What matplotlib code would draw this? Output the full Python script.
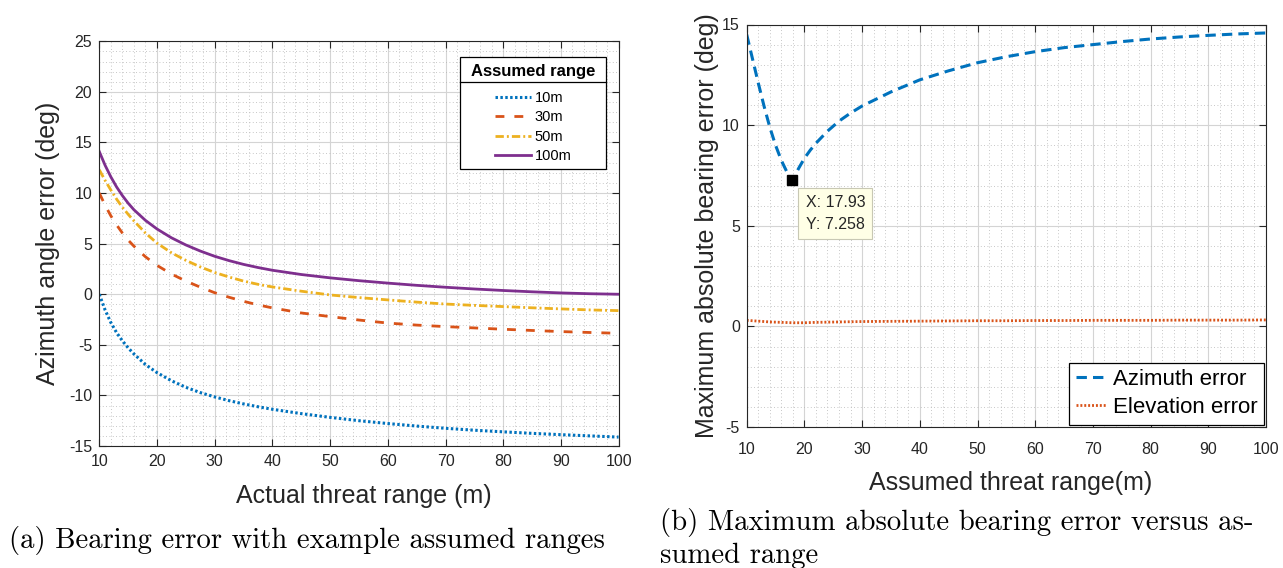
import matplotlib
matplotlib.use("Agg")
import matplotlib.pyplot as plt
from matplotlib.lines import Line2D
from matplotlib.ticker import MultipleLocator

plt.rcParams['font.family'] = ['Liberation Sans', 'DejaVu Sans']
plt.rcParams['axes.unicode_minus'] = False

# ---- (a) azimuth error vs actual threat range, for several assumed ranges ----
actual_range = [10, 11, 12, 13, 14, 15, 16, 18, 20, 22.5, 25, 27.5, 30, 32.5, 35,
                37.5, 40, 45, 50, 55, 60, 65, 70, 75, 80, 85, 90, 95, 100]
err_10m = [0.0, -1.55, -2.8, -3.8, -4.6, -5.3, -5.9, -6.95, -7.75, -8.55, -9.2, -9.72,
           -10.15, -10.52, -10.84, -11.12, -11.37, -11.8, -12.17, -12.5, -12.78, -13.03,
           -13.25, -13.44, -13.6, -13.75, -13.88, -14.0, -14.12]
err_30m = [10.0, 8.8, 7.75, 6.85, 6.05, 5.35, 4.75, 3.7, 2.85, 2.0, 1.3, 0.7, 0.15,
           -0.3, -0.7, -1.05, -1.35, -1.85, -2.21, -2.55, -2.85, -3.05, -3.2, -3.33,
           -3.46, -3.58, -3.69, -3.78, -3.86]
err_50m = [12.3, 11.25, 10.3, 9.4, 8.6, 7.9, 7.25, 6.05, 5.05, 4.1, 3.35, 2.7, 2.15,
           1.7, 1.3, 0.98, 0.72, 0.3, -0.07, -0.33, -0.56, -0.78, -0.97, -1.1, -1.22,
           -1.34, -1.45, -1.55, -1.62]
err_100m = [14.1, 12.75, 11.6, 10.6, 9.75, 9.0, 8.35, 7.3, 6.45, 5.58, 4.87, 4.27, 3.75,
            3.32, 2.95, 2.64, 2.37, 1.95, 1.62, 1.34, 1.1, 0.88, 0.69, 0.52, 0.37, 0.24,
            0.13, 0.05, 0.0]
series_labels = ['10m', '30m', '50m', '100m']

# ---- (b) maximum absolute bearing error vs assumed range ----
assumed_range = [10, 11, 12, 13, 14, 15, 16, 17, 17.93, 19, 20, 21, 22, 24, 26, 28, 30,
                 35, 40, 45, 50, 55, 60, 65, 70, 75, 80, 85, 90, 95, 100]
azimuth_err = [14.5, 13.3, 12.1, 10.95, 9.9, 9.0, 8.25, 7.65, 7.258, 7.85, 8.35, 8.75,
               9.1, 9.7, 10.2, 10.6, 10.95, 11.65, 12.25, 12.7, 13.1, 13.4, 13.65, 13.85,
               14.0, 14.15, 14.28, 14.38, 14.46, 14.53, 14.58]
elevation_err = [0.3, 0.28, 0.26, 0.24, 0.22, 0.21, 0.2, 0.19, 0.18, 0.18, 0.18, 0.19,
                 0.2, 0.21, 0.22, 0.23, 0.24, 0.25, 0.26, 0.27, 0.28, 0.28, 0.29, 0.29,
                 0.3, 0.3, 0.3, 0.31, 0.31, 0.31, 0.32]
tip_x, tip_y = 17.93, 7.258

x_ticks = list(range(10, 101, 10))
ticks_a = list(range(-15, 26, 5))
ticks_b = list(range(-5, 16, 5))

BLUE, ORANGE, YELLOW, PURPLE = '#0072BD', '#D95319', '#EDB120', '#7E2F8E'
AX_COL = '#262626'

W, H = 1283, 568
fig = plt.figure(figsize=(W / 100, H / 100), dpi=100)


def px_axes(left, top, right, bottom):
    return fig.add_axes([left / W, 1 - bottom / H, (right - left) / W, (bottom - top) / H])


def matlab_style(ax, xpad, ypad):
    ax.xaxis.set_minor_locator(MultipleLocator(2))
    ax.yaxis.set_minor_locator(MultipleLocator(1))
    ax.grid(True, which='major', color='#d4d4d4', lw=0.8, ls='-')
    ax.grid(True, which='minor', color='#b4b4b4', lw=0.6, ls=(0, (1, 3)))
    ax.set_axisbelow(True)
    ax.tick_params(which='major', direction='in', length=5, width=0.8,
                   top=True, right=True, colors=AX_COL, labelsize=11.5)
    ax.tick_params(axis='x', which='major', pad=xpad)
    ax.tick_params(axis='y', which='major', pad=ypad)
    ax.tick_params(which='minor', length=0)
    for s in ax.spines.values():
        s.set_color(AX_COL)
        s.set_linewidth(0.8)


# ---------------- panel (a) ----------------
ax1 = px_axes(99.3, 41.3, 618.6, 446)
styles = [
    (err_10m, BLUE, (0, (0.8, 0.8)), 2.2),
    (err_30m, ORANGE, (0, (3.2, 3.6)), 2.0),
    (err_50m, YELLOW, (0, (3.0, 1.1, 0.7, 1.1)), 2.0),
    (err_100m, PURPLE, '-', 2.0),
]
handles = []
for (vals, col, ls, lw), lab in zip(styles, series_labels):
    h, = ax1.plot(actual_range, vals, color=col, ls=ls, lw=lw, label=lab)
    handles.append(h)
ax1.set_xlim(10, 100)
ax1.set_ylim(-15, 25)
ax1.set_xticks(x_ticks)
ax1.set_yticks(ticks_a)
matlab_style(ax1, 6, 5)
ax1.set_xlabel('Actual threat range (m)', fontsize=18, color=AX_COL)
ax1.set_ylabel('Azimuth angle error (deg)', fontsize=18, color=AX_COL)
ax1.xaxis.set_label_coords(0.509, -0.093)
ax1.yaxis.set_label_coords(-0.075, 0.5)

leg1 = ax1.legend(handles=handles, loc='upper right', bbox_to_anchor=(0.976, 0.961),
                  borderaxespad=0, fontsize=10.5, title=' Assumed range ',
                  title_fontproperties={'weight': 'bold', 'size': 12},
                  handlelength=2.5, handletextpad=0.25, labelspacing=0.36,
                  borderpad=0.45, fancybox=False, framealpha=1, edgecolor='black')
leg1.get_frame().set_linewidth(0.9)
leg1._legend_box.sep = 9

# ---------------- panel (b) ----------------
ax2 = px_axes(746.7, 24.5, 1266, 427)
ha, = ax2.plot(assumed_range, azimuth_err, color=BLUE, ls=(0, (3.4, 2.0)), lw=2.2,
               label='Azimuth error')
he, = ax2.plot(assumed_range, elevation_err, color=ORANGE, ls=(0, (0.7, 0.7)), lw=2.0,
               label='Elevation error')
ax2.plot([tip_x], [tip_y], marker='s', color='black', ms=7.5, ls='none', zorder=5)
ax2.annotate(f'X: {tip_x:.2f}\nY: {tip_y:.3f}', xy=(tip_x, tip_y), xytext=(9.5, -10.5),
             textcoords='offset points', ha='left', va='top', fontsize=11.5,
             color=AX_COL, linespacing=1.6,
             bbox=dict(boxstyle='square,pad=0.45', fc='#FFFFE6', ec='#c8c8b4', lw=0.8),
             zorder=6)
ax2.set_xlim(10, 100)
ax2.set_ylim(-5, 15)
ax2.set_xticks(x_ticks)
ax2.set_yticks(ticks_b)
matlab_style(ax2, 11, 5)
ax2.set_xlabel('Assumed threat range(m)', fontsize=18, color=AX_COL)
ax2.set_ylabel('Maximum absolute bearing error (deg)', fontsize=18, color=AX_COL)
ax2.xaxis.set_label_coords(0.509, -0.11)
ax2.yaxis.set_label_coords(-0.054, 0.5)
leg2 = ax2.legend(handles=[ha, he], loc='lower right', bbox_to_anchor=(0.996, 0.006),
                  borderaxespad=0, fontsize=16, handlelength=1.35, handletextpad=0.3,
                  labelspacing=0.3, borderpad=0.3, fancybox=False, framealpha=1,
                  edgecolor='black')
leg2.get_frame().set_linewidth(0.9)

# ---------------- captions ----------------
cap = dict(family='cmr10', fontsize=20.7, color='black', va='baseline', ha='left')
fig.text(9 / W, 1 - 548 / H, '(a) Bearing error with example assumed ranges', **cap)
fig.text(660 / W, 1 - 530 / H, '(b) Maximum absolute bearing error versus as-', **cap)
fig.text(660 / W, 1 - 563 / H, 'sumed range', **cap)

# separator under the legend title
fig.canvas.draw()
lb = leg1.get_window_extent()
tb = leg1.get_title().get_window_extent()
y_sep = tb.y0 - 3
inv = fig.transFigure.inverted()
(x0f, yf), (x1f, _) = inv.transform([(lb.x0, y_sep), (lb.x1, y_sep)])
fig.add_artist(Line2D([x0f, x1f], [yf, yf], color='black', lw=0.9, zorder=10))

fig.savefig('out.png', dpi=100)
